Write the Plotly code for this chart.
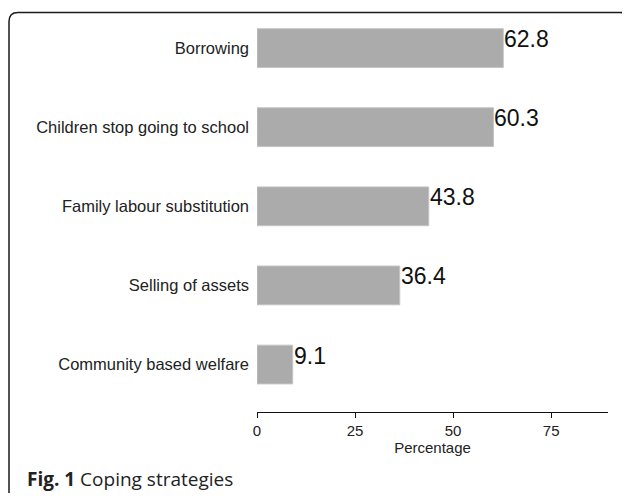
import plotly.graph_objects as go

categories = ["Community based welfare", "Selling of assets", "Family labour substitution",
              "Children stop going to school", "Borrowing"]
values = [9.1, 36.4, 43.8, 60.3, 62.8]
value_labels = ["9.1", "36.4", "43.8", "60.3", "62.8"]
x_ticks = [0, 25, 50, 75]

OFF = 8  # page body margin offset
W, H = 630 - OFF, 501 - 2 * OFF
ML, MT = 257 - OFF, 20 - OFF
MR = W - (608 - OFF)
MB = H - (412 - OFF)
PW, PH = W - ML - MR, H - MT - MB


def px(x):
    return (x - OFF - ML) / PW


def py(y):
    return (H - MB - (y - OFF)) / PH


fig = go.Figure()
fig.add_trace(go.Bar(
    y=categories, x=values, orientation="h",
    marker=dict(color="#ababab", line=dict(color="#c4c4c4", width=1)),
    hoverinfo="skip",
))

for c, v, t in zip(categories, values, value_labels):
    fig.add_annotation(x=v, y=c, text=t, showarrow=False, xanchor="left", yanchor="middle",
                       xshift=-1, yshift=9, font=dict(family="Liberation Sans, Arial", size=23, color="#111"))

# rounded outer frame
x0, x1, y0, y1, r = 9, 629, 12.5, 510, 9
path = (f"M {px(x0 + r)},{py(y0)} L {px(x1 - r)},{py(y0)} "
        f"Q {px(x1)},{py(y0)} {px(x1)},{py(y0 + r)} L {px(x1)},{py(y1 - r)} "
        f"Q {px(x1)},{py(y1)} {px(x1 - r)},{py(y1)} L {px(x0 + r)},{py(y1)} "
        f"Q {px(x0)},{py(y1)} {px(x0)},{py(y1 - r)} L {px(x0)},{py(y0 + r)} "
        f"Q {px(x0)},{py(y0)} {px(x0 + r)},{py(y0)} Z")
fig.add_shape(type="path", path=path, xref="paper", yref="paper",
              line=dict(color="#1a1a1a", width=1.5))

fig.add_annotation(x=px(25), y=py(479), xref="paper", yref="paper", showarrow=False,
                   xanchor="left", yanchor="middle",
                   text="<b>Fig. 1</b> Coping strategies",
                   font=dict(family="Open Sans", size=19, color="#222"))

fig.update_layout(
    width=W, height=H,
    margin=dict(l=ML, r=MR, t=MT, b=MB, pad=0),
    paper_bgcolor="white", plot_bgcolor="white",
    showlegend=False, bargap=0.51,
    font=dict(family="Liberation Sans, Arial", color="#222"),
)
fig.update_xaxes(range=[0, 89.5], tickvals=x_ticks, ticktext=[str(t) for t in x_ticks],
                 showgrid=False, zeroline=False, showline=True, linecolor="#111", linewidth=1,
                 ticks="outside", ticklen=5, tickcolor="#111", tickfont=dict(size=15),
                 title=dict(text="Percentage", font=dict(size=15), standoff=3))
fig.update_yaxes(categoryorder="array", categoryarray=categories, range=[-0.60, 4.355],
                 showgrid=False, zeroline=False, showline=False, ticks="",
                 tickfont=dict(size=16.5), ticklabelstandoff=7)

fig.write_html("out.html")
